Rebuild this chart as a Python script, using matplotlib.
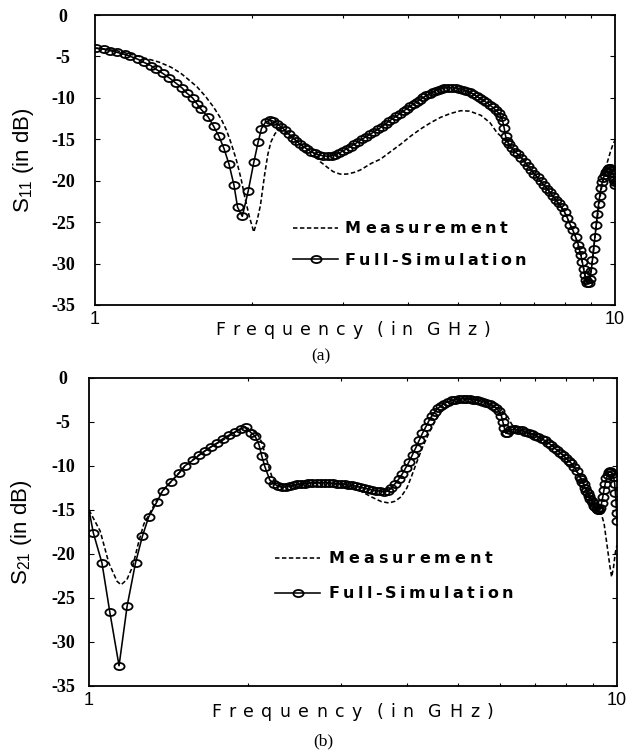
import matplotlib
matplotlib.use("Agg")
import matplotlib.pyplot as plt
import matplotlib.text as mtext
from matplotlib.lines import Line2D
from matplotlib.path import Path
from matplotlib.transforms import Affine2D, IdentityTransform, Bbox
from matplotlib.ticker import FixedLocator, NullFormatter

# ------------------------------------------------------------------ data
X_TICKS = [1, 10]
X_TICK_LABELS = ["1", "10"]
X_MINOR = [2, 3, 4, 5, 6, 7, 8, 9]
Y_TICKS = [0, -5, -10, -15, -20, -25, -30, -35]
Y_TICK_LABELS = ["0", "-5", "-10", "-15", "-20", "-25", "-30", "-35"]

LEGEND_LABELS = ["Measurement", "Full-Simulation"]
X_LABEL = "Frequency (in GHz)"
Y_LABEL_A = r"S$_{11}$ (in dB)"
Y_LABEL_B = r"S$_{21}$ (in dB)"
PANEL_TAGS = ["(a)", "(b)"]

# dense part of the simulated sweep (shared frequency grid, GHz)
DENSE_F = [
    2.20, 2.24, 2.28, 2.32, 2.36, 2.40, 2.44, 2.48, 2.52, 2.56,
    2.60, 2.65, 2.70, 2.75, 2.80, 2.85, 2.90, 2.95, 3.00, 3.05,
    3.10, 3.15, 3.20, 3.26, 3.32, 3.38, 3.44, 3.50, 3.56, 3.62,
    3.68, 3.74, 3.80, 3.86, 3.92, 3.98, 4.04, 4.10, 4.16, 4.22,
    4.28, 4.34, 4.40, 4.46, 4.52, 4.58, 4.64, 4.70, 4.78, 4.86,
    4.94, 5.02, 5.10, 5.18, 5.26, 5.34, 5.42, 5.50, 5.58, 5.66,
    5.74, 5.82, 5.90, 5.98, 6.04, 6.08, 6.12, 6.16, 6.20, 6.26,
    6.34, 6.42, 6.50, 6.60, 6.70, 6.80, 6.90, 7.00, 7.10, 7.20,
    7.30, 7.40, 7.50, 7.60, 7.70, 7.80, 7.90, 8.00, 8.10, 8.20,
    8.30, 8.40, 8.50, 8.55, 8.60, 8.65, 8.70, 8.75, 8.80, 8.85,
    8.90, 8.95, 9.00, 9.05, 9.10, 9.15, 9.20, 9.25, 9.30, 9.35,
    9.40, 9.45, 9.50, 9.55, 9.60, 9.65, 9.70, 9.75, 9.80, 9.85,
    9.90, 9.93, 9.96, 9.98, 10.00]

# ---- (a) S11
S11_SIM_F_LOW = [1.005, 1.04, 1.07, 1.10, 1.14, 1.17, 1.21, 1.24, 1.28, 1.31,
                 1.35, 1.39, 1.43, 1.47, 1.50, 1.54, 1.57, 1.60, 1.65, 1.69,
                 1.73, 1.77, 1.81, 1.85, 1.88, 1.92, 1.97, 2.02, 2.06, 2.09,
                 2.13, 2.17]
S11_SIM_DB_LOW = [-4.0, -4.1, -4.3, -4.5, -4.75, -5.0, -5.35, -5.7, -6.1, -6.55,
                  -7.05, -7.6, -8.2, -8.8, -9.4, -10.0, -10.7, -11.4, -12.3, -13.4,
                  -14.6, -16.1, -18.0, -20.5, -23.2, -24.3, -21.3, -17.8, -15.3, -13.7,
                  -12.9, -12.7]
S11_SIM_DB_DENSE = [
    -12.8, -13.1, -13.5, -13.9, -14.4, -14.8, -15.2, -15.6, -15.9, -16.2,
    -16.5, -16.7, -16.9, -17.0, -17.05, -17.0, -16.85, -16.65, -16.4, -16.15,
    -15.9, -15.6, -15.35, -15.0, -14.7, -14.4, -14.1, -13.8, -13.5, -13.15,
    -12.8, -12.5, -12.2, -11.9, -11.6, -11.3, -11.0, -10.7, -10.45, -10.2,
    -9.95, -9.7, -9.5, -9.3, -9.15, -9.0, -8.9, -8.82, -8.77, -8.77,
    -8.82, -8.9, -9.0, -9.15, -9.35, -9.55, -9.8, -10.05, -10.3, -10.55,
    -10.85, -11.15, -11.5, -11.85, -12.3, -12.8, -13.6, -14.6, -15.2, -15.6,
    -16.1, -16.5, -16.8, -17.2, -17.7, -18.2, -18.7, -19.2, -19.6, -20.05,
    -20.5, -20.95, -21.4, -21.85, -22.3, -22.75, -23.2, -23.8, -24.5, -25.3,
    -26.0, -26.8, -27.7, -28.4, -29.0, -29.8, -30.6, -31.4, -32.0, -32.4,
    -32.4, -31.9, -30.9, -29.6, -28.2, -26.8, -25.3, -24.0, -22.8, -21.8,
    -20.9, -20.2, -19.7, -19.3, -19.0, -18.8, -18.6, -18.5, -18.5, -18.7,
    -19.1, -19.5, -19.9, -20.2, -20.5]
S11_MEAS_F = [1.00, 1.10, 1.20, 1.28, 1.33, 1.40, 1.46, 1.50, 1.57, 1.63,
              1.69, 1.75, 1.79, 1.83, 1.87, 1.91, 1.94, 1.98, 2.02, 2.05,
              2.08, 2.12, 2.15, 2.18, 2.22, 2.27, 2.32, 2.40, 2.48, 2.56,
              2.63, 2.71, 2.80, 2.87, 2.96, 3.05, 3.15, 3.24, 3.40, 3.54,
              3.70, 3.87, 4.05, 4.23, 4.42, 4.62, 4.82, 5.05, 5.25, 5.52,
              5.75, 5.93, 6.10, 6.20, 6.34, 6.60, 7.00, 7.50, 8.00, 8.40,
              8.60, 8.80, 8.90, 9.00, 9.20, 9.40, 9.60, 9.80, 9.90, 10.00]
S11_MEAS_DB = [-4.0, -4.3, -4.9, -5.4, -5.7, -6.3, -7.0, -7.6, -8.65, -9.8,
               -11.1, -12.6, -13.9, -15.6, -17.5, -19.8, -21.9, -24.3, -26.2, -24.8,
               -23.0, -19.2, -16.8, -15.3, -14.3, -13.7, -14.0, -14.8, -15.6, -16.2,
               -16.6, -17.7, -18.4, -18.9, -19.2, -19.2, -19.0, -18.7, -17.9, -17.4,
               -16.5, -15.6, -14.6, -13.75, -13.0, -12.35, -11.9, -11.55, -11.6, -12.1,
               -13.0, -14.2, -14.9, -15.4, -16.1, -17.2, -19.2, -21.4, -23.8, -26.8,
               -29.0, -32.0, -32.2, -30.8, -25.5, -21.2, -18.4, -16.5, -15.7, -15.1]

# ---- (b) S21
S21_SIM_F_LOW = [1.000, 1.019, 1.058, 1.095, 1.140, 1.181, 1.225, 1.262, 1.297, 1.344,
                 1.379, 1.428, 1.480, 1.518, 1.573, 1.615, 1.657, 1.700, 1.747, 1.793,
                 1.840, 1.890, 1.940, 1.980, 2.026, 2.063, 2.099, 2.125, 2.154]
S21_SIM_DB_LOW = [-15.0, -17.6, -21.0, -26.6, -32.7, -25.9, -21.0, -18.0, -15.8, -14.1,
                  -12.8, -11.8, -10.85, -10.0, -9.35, -8.8, -8.3, -7.85, -7.4, -6.9,
                  -6.5, -6.15, -5.75, -5.6, -6.2, -6.6, -7.6, -8.9, -10.1]
S21_SIM_DB_DENSE = [
    -11.6, -12.0, -12.3, -12.4, -12.35, -12.25, -12.15, -12.1, -12.05, -12.0,
    -11.95, -11.9, -11.9, -11.9, -11.9, -11.95, -11.95, -12.0, -12.0, -12.1,
    -12.15, -12.2, -12.3, -12.4, -12.5, -12.6, -12.7, -12.8, -12.85, -12.9,
    -12.85, -12.5, -12.0, -11.5, -10.9, -10.2, -9.5, -8.7, -7.9, -7.1,
    -6.3, -5.6, -4.9, -4.3, -3.85, -3.45, -3.15, -2.9, -2.7, -2.55,
    -2.45, -2.4, -2.35, -2.35, -2.4, -2.45, -2.5, -2.6, -2.7, -2.85,
    -3.0, -3.2, -3.4, -3.8, -4.3, -5.0, -5.7, -6.3, -6.2, -5.95,
    -5.85, -5.85, -5.9, -5.95, -6.1, -6.25, -6.4, -6.55, -6.7, -6.9,
    -7.1, -7.35, -7.6, -7.9, -8.2, -8.5, -8.8, -9.1, -9.4, -9.7,
    -10.1, -10.6, -11.2, -11.5, -11.8, -12.1, -12.5, -12.8, -13.1, -13.4,
    -13.7, -14.0, -14.25, -14.5, -14.7, -14.85, -14.95, -15.0, -14.8, -14.2,
    -13.5, -12.7, -12.0, -11.4, -11.0, -10.7, -10.6, -10.7, -10.9, -11.2,
    -12.0, -13.1, -14.2, -15.3, -16.2]
S21_MEAS_F = [1.00, 1.05, 1.09, 1.13, 1.15, 1.18, 1.21, 1.24, 1.27, 1.30,
              1.34, 1.38, 1.43, 1.52, 1.61, 1.70, 1.80, 1.89, 1.96, 2.03,
              2.08, 2.12, 2.16, 2.19, 2.22, 2.26, 2.31, 2.37, 2.45, 2.60,
              2.80, 3.00, 3.15, 3.28, 3.45, 3.58, 3.70, 3.80, 3.90, 4.00,
              4.08, 4.18, 4.28, 4.40, 4.52, 4.64, 4.78, 4.92, 5.10, 5.30,
              5.60, 5.90, 6.04, 6.19, 6.31, 6.43, 6.60, 7.00, 7.50, 8.00,
              8.50, 8.90, 9.20, 9.29, 9.45, 9.60, 9.70, 9.77, 9.85, 9.93,
              10.00]
S21_MEAS_DB = [-15.0, -17.4, -21.0, -23.1, -23.5, -22.9, -21.4, -18.8, -16.6, -15.5,
               -14.0, -12.8, -11.8, -10.0, -8.8, -7.85, -7.0, -6.15, -5.6, -5.8,
               -6.3, -7.2, -8.8, -10.1, -11.2, -12.0, -12.3, -12.3, -12.2, -12.0,
               -11.9, -12.1, -12.4, -12.9, -13.6, -14.05, -14.2, -14.0, -13.5, -12.5,
               -11.2, -9.5, -7.9, -6.3, -4.9, -3.85, -3.1, -2.7, -2.45, -2.45,
               -2.6, -3.3, -3.7, -4.25, -5.2, -5.87, -5.95, -6.5, -7.5, -9.0,
               -11.1, -13.6, -14.9, -15.0, -16.5, -19.5, -21.5, -22.6, -21.5, -19.8,
               -19.0]

# ------------------------------------------------------------------ style
plt.rcParams["font.family"] = ["Liberation Sans", "DejaVu Sans"]
plt.rcParams["mathtext.fontset"] = "custom"
plt.rcParams["mathtext.rm"] = "Liberation Sans"
plt.rcParams["mathtext.it"] = "Liberation Sans:italic"
plt.rcParams["mathtext.bf"] = "Liberation Sans:bold"
plt.rcParams["mathtext.default"] = "rm"
plt.rcParams["lines.scale_dashes"] = False

W, H, DPI = 628, 752, 100
DASHES = (3.2, 1.8)
LW = 1.15
ELLIPSE = Affine2D().scale(1.0, 0.7).transform_path(Path.unit_circle())
MS = 7.3
MEW = 1.3
WIDE_FONT = ["DejaVu Sans", "Liberation Sans"]


class TrackedText(mtext.Text):
    """A single text object drawn with extra letter spacing (fit to width_px)."""

    def __init__(self, x, y, text, width_px=None, **kw):
        super().__init__(x, y, text, **kw)
        self._width_px = width_px

    def _glyphs(self, renderer):
        prop = self.get_fontproperties()
        s = self.get_text()
        widths = []
        for ch in s:
            if ch.isspace():
                widths.append(0.0)
            else:
                w, _, _ = renderer.get_text_width_height_descent(ch, prop, ismath=False)
                widths.append(w)
        n = len(s)
        ink = sum(widths)
        gap = (self._width_px - ink) / (n - 1) if (self._width_px and n > 1) else 0.0
        total = ink + gap * (n - 1)
        x0, y0 = self.get_transform().transform(self.get_position())
        ha = self.get_horizontalalignment()
        if ha == "center":
            start = x0 - total / 2.0
        elif ha == "right":
            start = x0 - total
        else:
            start = x0
        _, hh, dd = renderer.get_text_width_height_descent(s, prop, ismath=False)
        pos = []
        x = start
        for ch, w in zip(s, widths):
            pos.append((x, ch))
            x += w + gap
        return pos, start, total, y0, hh, dd

    def draw(self, renderer):
        if not self.get_visible() or not self.get_text():
            return
        pos, _, _, y0, _, _ = self._glyphs(renderer)
        for x, ch in pos:
            if ch.isspace():
                continue
            t = mtext.Text(x, y0, ch, fontproperties=self.get_fontproperties(),
                           color=self.get_color(), ha="left", va="baseline",
                           transform=IdentityTransform())
            t.set_figure(self.figure)
            t.draw(renderer)

    def get_window_extent(self, renderer=None, dpi=None):
        if renderer is None:
            renderer = self.figure.canvas.get_renderer()
        _, start, total, y0, hh, dd = self._glyphs(renderer)
        return Bbox.from_bounds(start, y0 - dd, total, hh)


fig = plt.figure(figsize=(W / DPI, H / DPI), dpi=DPI, facecolor="white")


def px_rect(l, t, r, b):
    return [l / W, 1 - b / H, (r - l) / W, (b - t) / H]


def fx(px):
    return px / W


def fy(py):
    return 1 - py / H


def panel(ax, meas_f, meas_db, sim_f, sim_db, mark_start, ylabel, ylab_x, ypad):
    ax.plot(meas_f, meas_db, color="black", lw=LW, dashes=DASHES, zorder=2)
    ax.plot(sim_f, sim_db, color="black", lw=LW, marker=ELLIPSE, ms=MS,
            mfc="none", mec="black", mew=MEW,
            markevery=list(range(mark_start, len(sim_f))), zorder=3)
    ax.set_xscale("log")
    ax.set_xlim(1, 10)
    ax.set_ylim(-35, 0)
    ax.xaxis.set_major_locator(FixedLocator(X_TICKS))
    ax.set_xticklabels(X_TICK_LABELS, fontsize=13)
    ax.xaxis.set_minor_locator(FixedLocator(X_MINOR))
    ax.xaxis.set_minor_formatter(NullFormatter())
    ax.set_yticks(Y_TICKS)
    ax.set_yticklabels(Y_TICK_LABELS, fontfamily="Liberation Serif",
                       fontweight="bold", fontsize=13, ha="center")
    ax.tick_params(axis="y", which="major", direction="in", length=3.6,
                   width=0.8, left=True, right=True, pad=ypad)
    ax.tick_params(axis="x", which="both", direction="in", top=True,
                   bottom=True, width=0.8)
    ax.tick_params(axis="x", which="minor", length=2.4)
    ax.tick_params(axis="x", which="major", length=0, pad=4.5)
    for sp in ax.spines.values():
        sp.set_linewidth(1.3)
    ax.set_ylabel(ylabel, fontsize=16, va="center")
    ax.yaxis.set_label_coords(ylab_x, 0.5)


# ---------------------------------------------------------------- panel (a)
ax1 = fig.add_axes(px_rect(95, 15, 615, 305))
panel(ax1, S11_MEAS_F, S11_MEAS_DB, S11_SIM_F_LOW + DENSE_F,
      S11_SIM_DB_LOW + S11_SIM_DB_DENSE, 0, Y_LABEL_A, (24 - 95) / 520, 23)

# ---------------------------------------------------------------- panel (b)
ax2 = fig.add_axes(px_rect(89, 378, 617, 686))
panel(ax2, S21_MEAS_F, S21_MEAS_DB, S21_SIM_F_LOW + DENSE_F,
      S21_SIM_DB_LOW + S21_SIM_DB_DENSE, 1, Y_LABEL_B, (21 - 89) / 528, 18.7)

# ---------------------------------------------------------------- x labels
for cx, base, wpx in [(352.5, 335, 275), (352, 717, 282)]:
    fig.add_artist(TrackedText(fx(cx), fy(base), X_LABEL, width_px=wpx,
                               transform=fig.transFigure, ha="center",
                               va="baseline", fontsize=12.5, family=WIDE_FONT))

# ---------------------------------------------------------------- panel tags
fig.text(fx(321), fy(360), PANEL_TAGS[0], family="Liberation Serif",
         fontsize=12.5, ha="center", va="baseline")
fig.text(fx(323), fy(745), PANEL_TAGS[1], family="Liberation Serif",
         fontsize=12.5, ha="center", va="baseline")

# ---------------------------------------------------------------- legends
legend_specs = [
    # x1, x2, y_meas, y_sim, text_x, base_meas, base_sim, w_meas, w_sim
    (293, 338, 228, 259, 345, 233, 265, 163, 181),
    (275, 320, 557.5, 592.5, 328, 563, 598, 165, 185),
]
for x1, x2, ym, ys, tx, bm, bs, wm, ws in legend_specs:
    fig.add_artist(Line2D([fx(x1), fx(x2)], [fy(ym), fy(ym)], color="black",
                          lw=LW, dashes=DASHES, transform=fig.transFigure))
    fig.add_artist(Line2D([fx(x1), fx((x1 + x2) / 2), fx(x2)], [fy(ys)] * 3,
                          color="black", lw=LW, marker=ELLIPSE, ms=MS,
                          mfc="none", mec="black", mew=MEW, markevery=[1],
                          transform=fig.transFigure))
    fig.add_artist(TrackedText(fx(tx), fy(bm), LEGEND_LABELS[0], width_px=wm,
                               transform=fig.transFigure, ha="left",
                               va="baseline", fontsize=11.5, fontweight="bold",
                               family=WIDE_FONT))
    fig.add_artist(TrackedText(fx(tx), fy(bs), LEGEND_LABELS[1], width_px=ws,
                               transform=fig.transFigure, ha="left",
                               va="baseline", fontsize=11.5, fontweight="bold",
                               family=WIDE_FONT))

fig.savefig("out.png", dpi=DPI, facecolor="white")
